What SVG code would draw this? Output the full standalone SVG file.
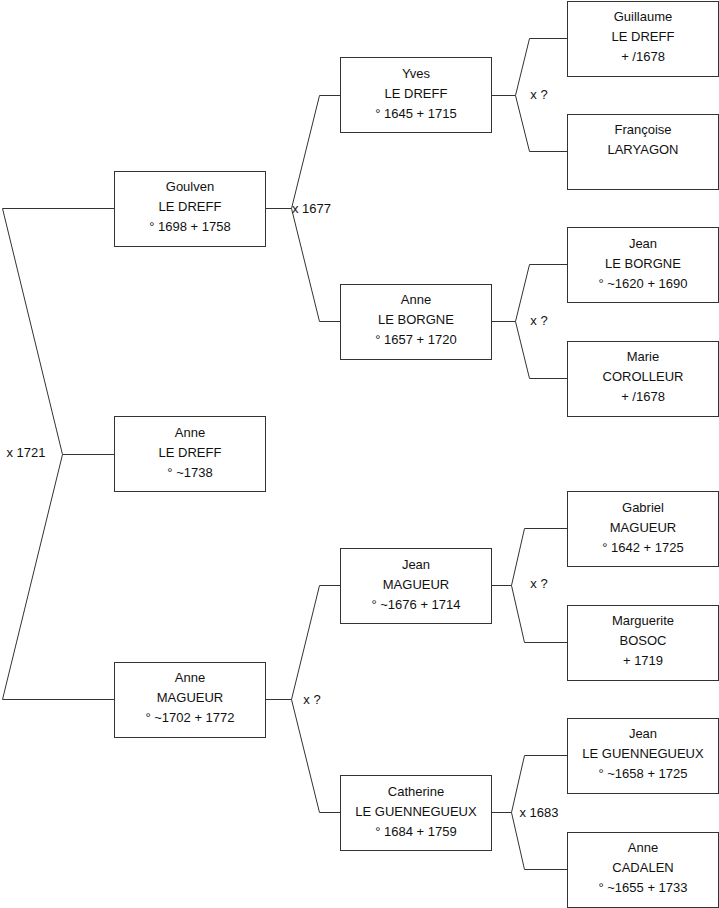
<svg xmlns="http://www.w3.org/2000/svg" width="719" height="908" viewBox="0 0 719 908">
<style>
.box{fill:#fff;stroke:#333;stroke-width:1}
.con{fill:none;stroke:#333;stroke-width:1}
text{font-family:"Liberation Sans",Arial,sans-serif;font-size:13px;fill:#111}
.c{text-anchor:middle}
</style>
<rect width="719" height="908" fill="#fff"/>
<g id="connectors">
<polyline class="con" points="114,208.5 2.5,208.5 62.5,454.5 2.5,699.5 114,699.5"/>
<line class="con" x1="62.5" y1="454.5" x2="114" y2="454.5"/>
<polyline class="con" points="340,95.5 319.5,95.5 291.5,208.5 319.5,321.5 340,321.5"/>
<line class="con" x1="265" y1="208.5" x2="291.5" y2="208.5"/>
<polyline class="con" points="340,585.5 319.5,585.5 291.5,699.5 319.5,812.5 340,812.5"/>
<line class="con" x1="265" y1="699.5" x2="291.5" y2="699.5"/>
<polyline class="con" points="567,38.5 529.5,38.5 515.5,95.5 529.5,151.5 567,151.5"/>
<line class="con" x1="491" y1="95.5" x2="515.5" y2="95.5"/>
<polyline class="con" points="567,264.5 529.5,264.5 515.5,321.5 529.5,378.5 567,378.5"/>
<line class="con" x1="491" y1="321.5" x2="515.5" y2="321.5"/>
<polyline class="con" points="567,528.5 524.5,528.5 511.5,585.5 524.5,642.5 567,642.5"/>
<line class="con" x1="491" y1="585.5" x2="511.5" y2="585.5"/>
<polyline class="con" points="567,755.5 524.5,755.5 511.5,812.5 524.5,869.5 567,869.5"/>
<line class="con" x1="491" y1="812.5" x2="511.5" y2="812.5"/>
<text x="26" y="457" class="c">x 1721</text>
<text x="292" y="212.5">x 1677</text>
<text x="312" y="703.5" class="c">x ?</text>
<text x="539" y="99" class="c">x ?</text>
<text x="539" y="325" class="c">x ?</text>
<text x="539" y="588" class="c">x ?</text>
<text x="539" y="816.5" class="c">x 1683</text>
</g>
<g id="goulven">
<rect class="box" x="114.5" y="171.5" width="151" height="75"/>
<text class="c" x="190" y="191">Goulven</text>
<text class="c" x="190" y="211">LE DREFF</text>
<text class="c" x="190" y="231">° 1698 + 1758</text>
</g>
<g id="anne-le-dreff">
<rect class="box" x="114.5" y="416.5" width="151" height="75"/>
<text class="c" x="190" y="437">Anne</text>
<text class="c" x="190" y="457">LE DREFF</text>
<text class="c" x="190" y="477">° ~1738</text>
</g>
<g id="anne-magueur">
<rect class="box" x="114.5" y="662.5" width="151" height="75"/>
<text class="c" x="190" y="682">Anne</text>
<text class="c" x="190" y="702">MAGUEUR</text>
<text class="c" x="190" y="722">° ~1702 + 1772</text>
</g>
<g id="yves">
<rect class="box" x="340.5" y="57.5" width="151" height="75"/>
<text class="c" x="416" y="78">Yves</text>
<text class="c" x="416" y="98">LE DREFF</text>
<text class="c" x="416" y="118">° 1645 + 1715</text>
</g>
<g id="anne-le-borgne">
<rect class="box" x="340.5" y="284.5" width="151" height="75"/>
<text class="c" x="416" y="304">Anne</text>
<text class="c" x="416" y="324">LE BORGNE</text>
<text class="c" x="416" y="344">° 1657 + 1720</text>
</g>
<g id="jean-magueur">
<rect class="box" x="340.5" y="548.5" width="151" height="75"/>
<text class="c" x="416" y="569">Jean</text>
<text class="c" x="416" y="589">MAGUEUR</text>
<text class="c" x="416" y="609">° ~1676 + 1714</text>
</g>
<g id="catherine">
<rect class="box" x="340.5" y="775.5" width="151" height="75"/>
<text class="c" x="416" y="796">Catherine</text>
<text class="c" x="416" y="816">LE GUENNEGUEUX</text>
<text class="c" x="416" y="836">° 1684 + 1759</text>
</g>
<g id="guillaume">
<rect class="box" x="567.5" y="1.5" width="151" height="75"/>
<text class="c" x="643" y="21">Guillaume</text>
<text class="c" x="643" y="41">LE DREFF</text>
<text class="c" x="643" y="61">+ /1678</text>
</g>
<g id="francoise">
<rect class="box" x="567.5" y="114.5" width="151" height="75"/>
<text class="c" x="643" y="134">Françoise</text>
<text class="c" x="643" y="154">LARYAGON</text>
</g>
<g id="jean-le-borgne">
<rect class="box" x="567.5" y="227.5" width="151" height="75"/>
<text class="c" x="643" y="248">Jean</text>
<text class="c" x="643" y="268">LE BORGNE</text>
<text class="c" x="643" y="288">° ~1620 + 1690</text>
</g>
<g id="marie">
<rect class="box" x="567.5" y="341.5" width="151" height="75"/>
<text class="c" x="643" y="361">Marie</text>
<text class="c" x="643" y="381">COROLLEUR</text>
<text class="c" x="643" y="401">+ /1678</text>
</g>
<g id="gabriel">
<rect class="box" x="567.5" y="491.5" width="151" height="75"/>
<text class="c" x="643" y="512">Gabriel</text>
<text class="c" x="643" y="532">MAGUEUR</text>
<text class="c" x="643" y="552">° 1642 + 1725</text>
</g>
<g id="marguerite">
<rect class="box" x="567.5" y="605.5" width="151" height="75"/>
<text class="c" x="643" y="625">Marguerite</text>
<text class="c" x="643" y="645">BOSOC</text>
<text class="c" x="643" y="665">+ 1719</text>
</g>
<g id="jean-le-guennegueux">
<rect class="box" x="567.5" y="718.5" width="151" height="75"/>
<text class="c" x="643" y="738">Jean</text>
<text class="c" x="643" y="758">LE GUENNEGUEUX</text>
<text class="c" x="643" y="778">° ~1658 + 1725</text>
</g>
<g id="anne-cadalen">
<rect class="box" x="567.5" y="832.5" width="151" height="75"/>
<text class="c" x="643" y="852">Anne</text>
<text class="c" x="643" y="872">CADALEN</text>
<text class="c" x="643" y="892">° ~1655 + 1733</text>
</g>
</svg>
